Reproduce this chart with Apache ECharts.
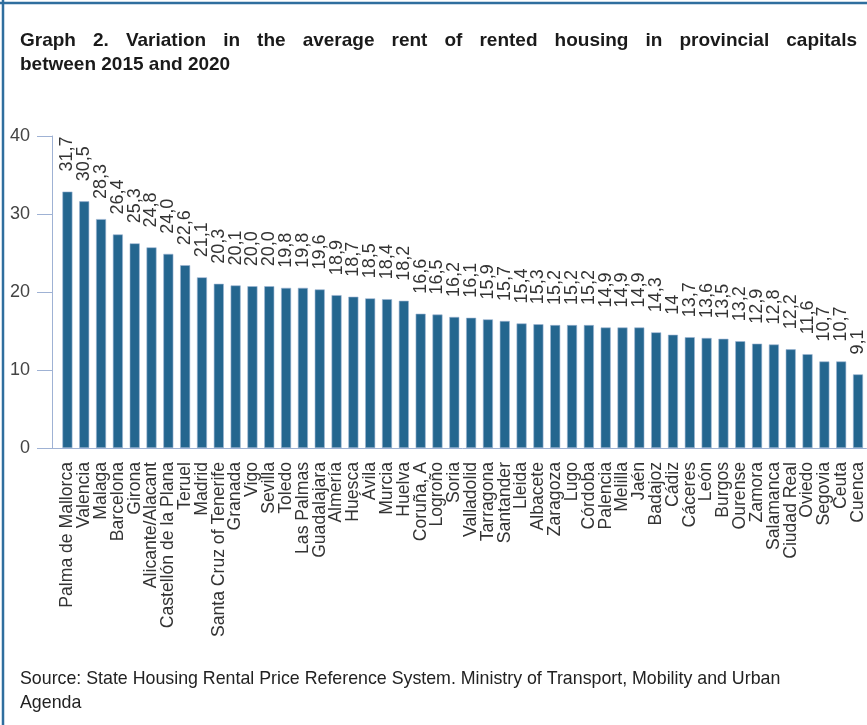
<!DOCTYPE html>
<html>
<head>
<meta charset="utf-8">
<script src="https://cdn.jsdelivr.net/npm/echarts@6/dist/echarts.min.js"></script>
<style>
html,body{margin:0;padding:0;background:#fff;}
#chart{width:867px;height:725px;}
</style>
</head>
<body>
<div id="chart"></div>
<script>
const cities = ["Palma de Mallorca","Valencia","Malaga","Barcelona","Girona","Alicante/Alacant","Castellón de la Plana","Teruel","Madrid","Santa Cruz of Tenerife","Granada","Vigo","Sevilla","Toledo","Las Palmas","Guadalajara","Almería","Huesca","Ávila","Murcia","Huelva","Coruña, A","Logroño","Soria","Valladolid","Tarragona","Santander","Lleida","Albacete","Zaragoza","Lugo","Córdoba","Palencia","Melilla","Jaén","Badajoz","Cádiz","Cáceres","León","Burgos","Ourense","Zamora","Salamanca","Ciudad Real","Oviedo","Segovia","Ceuta","Cuenca"];
const variation = [31.7,30.5,28.3,26.4,25.3,24.8,24.0,22.6,21.1,20.3,20.1,20.0,20.0,19.8,19.8,19.6,18.9,18.7,18.5,18.4,18.2,16.6,16.5,16.2,16.1,15.9,15.7,15.4,15.3,15.2,15.2,15.2,14.9,14.9,14.9,14.3,14,13.7,13.6,13.5,13.2,12.9,12.8,12.2,11.6,10.7,10.7,9.1];
const valueLabels = ["31,7","30,5","28,3","26,4","25,3","24,8","24,0","22,6","21,1","20,3","20,1","20,0","20,0","19,8","19,8","19,6","18,9","18,7","18,5","18,4","18,2","16,6","16,5","16,2","16,1","15,9","15,7","15,4","15,3","15,2","15,2","15,2","14,9","14,9","14,9","14,3","14","13,7","13,6","13,5","13,2","12,9","12,8","12,2","11,6","10,7","10,7","9,1"];
const yTickLabels = ["0","10","20","30","40"];
const titleLines = ["Graph 2. Variation in the average rent of rented housing in provincial capitals","between 2015 and 2020"];
const sourceLines = ["Source: State Housing Rental Price Reference System. Ministry of Transport, Mobility and Urban","Agenda"];

// the printed axis in the original is slightly compressed relative to the bar values
const axisScale = 1.037;
const yMax = 40 / axisScale;
const yInterval = yMax / 4;

const FONT = "'Liberation Sans', Arial, sans-serif";
const TITLE_FONT = "bold 19px 'Liberation Sans Narrow', 'Liberation Sans', Arial, sans-serif";
const axisColor = '#9fb2d4';

// justified first title line (words spread between x=20 and x=857)
const ctx = document.createElement('canvas').getContext('2d');
ctx.font = TITLE_FONT;
const titleGraphics = [];
(function(){
  const words = titleLines[0].split(' ');
  const widths = words.map(w => ctx.measureText(w).width);
  const total = widths.reduce((a,b)=>a+b,0);
  const left = 20, right = 857;
  const gap = (right - left - total) / (words.length - 1);
  let x = left;
  words.forEach((w,i)=>{
    titleGraphics.push({type:'text', x:x, y:31, style:{text:w, font:TITLE_FONT, fill:'#1a1a1a', verticalAlign:'top'}});
    x += widths[i] + gap;
  });
  titleGraphics.push({type:'text', x:left, y:55, style:{text:titleLines[1], font:TITLE_FONT, fill:'#1a1a1a', verticalAlign:'top'}});
})();

const chart = echarts.init(document.getElementById('chart'), null, {renderer:'canvas'});
chart.setOption({
  animation:false,
  backgroundColor:'#fff',
  grid:{left:59, right:0, top:136, bottom:277, containLabel:false},
  xAxis:{
    type:'category', data:cities, boundaryGap:true,
    axisLine:{show:true, lineStyle:{color:axisColor, width:1}},
    axisTick:{show:false},
    axisLabel:{rotate:90, interval:0, margin:14, fontSize:17.6, color:'#333', fontFamily:FONT}
  },
  yAxis:{
    type:'value', min:0, max:yMax, interval:yInterval, offset:7,
    axisLine:{show:true, lineStyle:{color:axisColor, width:1}},
    axisTick:{show:true, length:15, lineStyle:{color:axisColor, width:1}},
    splitLine:{show:false},
    axisLabel:{margin:22, fontSize:18, color:'#444', fontFamily:FONT,
      formatter:(v,i)=>yTickLabels[i]}
  },
  series:[{
    type:'bar', data:variation, barWidth:10,
    itemStyle:{color:'#24668f', borderColor:'#9db6d3', borderWidth:0.6},
    label:{show:true, position:'top', rotate:90, align:'left', verticalAlign:'middle', distance:20,
      fontSize:18, color:'#333', fontFamily:FONT,
      formatter:(p)=>valueLabels[p.dataIndex]}
  }],
  graphic:[
    {type:'line', shape:{x1:0,y1:3,x2:867,y2:3}, style:{stroke:'#2f6e9e', lineWidth:2.5}},
    {type:'line', shape:{x1:3,y1:0,x2:3,y2:725}, style:{stroke:'#2f6e9e', lineWidth:2.5}},
    {type:'line', shape:{x1:52,y1:448.5,x2:60,y2:448.5}, style:{stroke:axisColor, lineWidth:1}},
    ...titleGraphics,
    {type:'text', left:20, top:670, style:{text:sourceLines[0], font:"17.8px "+FONT, fill:'#222'}},
    {type:'text', left:20, top:694, style:{text:sourceLines[1], font:"17.8px "+FONT, fill:'#222'}}
  ]
});
</script>
</body>
</html>
